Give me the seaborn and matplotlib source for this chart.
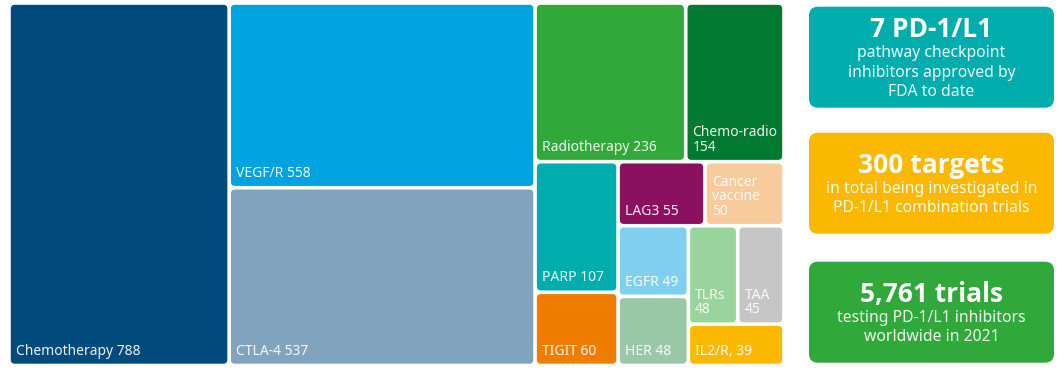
import matplotlib
matplotlib.use("Agg")
import matplotlib.pyplot as plt
from matplotlib.patches import FancyBboxPatch
import seaborn as sns

# Trials by combination partner (treemap)
categories = ["Chemotherapy", "VEGF/R", "CTLA-4", "Radiotherapy", "Chemo-radio",
              "PARP", "TIGIT", "LAG3", "Cancer vaccine", "EGFR", "HER",
              "TLRs", "TAA", "IL2/R,"]
counts = [788, 558, 537, 236, 154, 107, 60, 55, 50, 49, 48, 48, 45, 39]
tile_colors = ["#004a7c", "#00a3e0", "#80a4bd", "#30a83a", "#007a30",
               "#00adad", "#ef7d00", "#8b1060", "#f8cb9c", "#80cfef", "#99c8a9",
               "#98d49b", "#c6c6c6", "#fab800"]

# Key figures on the right
box_titles = ["7 PD-1/L1", "300 targets", "5,761 trials"]
box_lines = [["pathway checkpoint", "inhibitors approved by", "FDA to date"],
             ["in total being investigated in", "PD-1/L1 combination trials"],
             ["testing PD-1/L1 inhibitors", "worldwide in 2021"]]
box_colors = ["#00adad", "#fab800", "#30a83a"]


def squarify(values, x0, y0, x1, y1, ratio=1.1):
    # squarified layout, rows are added while the worst aspect ratio improves
    rects = []
    total = float(sum(values))
    n = len(values)
    i0 = 0
    while i0 < n:
        dx, dy = x1 - x0, y1 - y0
        s = values[i0]
        vmin = vmax = s
        alpha = max(dy / dx, dx / dy) / (total * ratio)
        beta = s * s * alpha
        best = max(vmax / beta, beta / vmin)
        i1 = i0 + 1
        while i1 < n:
            v = values[i1]
            s2 = s + v
            beta = s2 * s2 * alpha
            r = max(max(vmax, v) / beta, beta / min(vmin, v))
            if r > best:
                break
            s, best = s2, r
            vmin, vmax = min(vmin, v), max(vmax, v)
            i1 += 1
        row = values[i0:i1]
        if dx < dy:
            h = dy * s / total
            x = x0
            for v in row:
                w = dx * v / s
                rects.append((x, y0, w, h))
                x += w
            y0 += h
        else:
            w = dx * s / total
            y = y0
            for v in row:
                h = dy * v / s
                rects.append((x0, y, w, h))
                y += h
            x0 += w
        total -= s
        i0 = i1
    return rects


sns.set_theme(style="white")
plt.rcParams["font.family"] = ["Noto Sans", "DejaVu Sans"]

fig = plt.figure(figsize=(10.63, 3.74), dpi=100)
ax = fig.add_axes([0, 0, 1, 1])
ax.set_xlim(0, 1063)
ax.set_ylim(374, 0)
ax.axis("off")
renderer = fig.canvas.get_renderer()

label_kw = dict(fontsize=10, color="white", alpha=0.92, ha="left", va="bottom",
                linespacing=0.95)


def text_width(s):
    t = ax.text(0, 0, s, **label_kw)
    w = t.get_window_extent(renderer).width
    t.remove()
    return w


def fit_label(name, value, max_w):
    full = f"{name} {value}"
    if text_width(full) <= max_w:
        return full
    words = name.split()
    lines = [words[0]]
    for word in words[1:]:
        trial = lines[-1] + " " + word
        if text_width(trial) <= max_w:
            lines[-1] = trial
        else:
            lines.append(word)
    return "\n".join(lines + [str(value)])


gap = 1.8
pad = 5
rects = squarify(counts, 9, 3, 784, 365.5)
for (x, y, w, h), name, val, col in zip(rects, categories, counts, tile_colors):
    ax.add_patch(FancyBboxPatch((x + gap, y + gap), w - 2 * gap, h - 2 * gap,
                                boxstyle="round,pad=0,rounding_size=4",
                                fc=col, ec="none"))
    label = fit_label(name, val, w - 2 * gap - pad - 3)
    ax.text(x + gap + pad, y + h - gap - 5, label, **label_kw)

# info boxes
box_x0, box_x1 = 809, 1054
box_tops = [6.7, 132.7, 261.7]
box_h = 101
for top, title, lines, col in zip(box_tops, box_titles, box_lines, box_colors):
    ax.add_patch(FancyBboxPatch((box_x0, top), box_x1 - box_x0, box_h,
                                boxstyle="round,pad=0,rounding_size=9",
                                fc=col, ec="none"))
    cx = (box_x0 + box_x1) / 2
    span = 20 + 19.3 * (len(lines) - 1)
    b0 = top + box_h / 2 + 9.5 - span / 2
    ax.text(cx, b0, title, fontsize=19, fontweight="bold", color="white",
            family=["Open Sans", "DejaVu Sans"], ha="center", va="baseline")
    for i, line in enumerate(lines):
        ax.text(cx, b0 + 20 + 19.3 * i, line, fontsize=11.3, color="white",
                alpha=0.92, ha="center", va="baseline")

fig.savefig("out.png", dpi=100)
